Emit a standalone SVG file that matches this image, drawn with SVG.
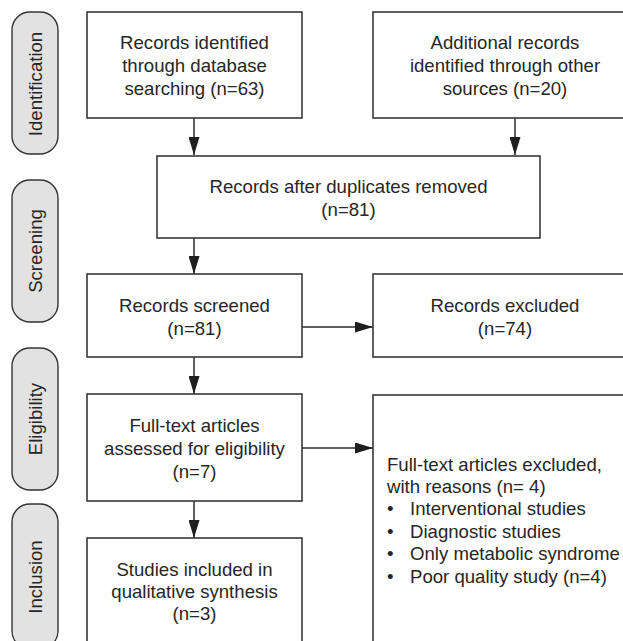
<svg xmlns="http://www.w3.org/2000/svg" width="623" height="641" viewBox="0 0 623 641">
<style>
.box{fill:#fff;stroke:#2b2b2b;stroke-width:1.5}
.pill{fill:#e2e2e2;stroke:#333;stroke-width:1.4}
.t{font-family:"Liberation Sans",Arial,sans-serif;font-size:18.6px;fill:#262626}
.c{text-anchor:middle}
.conn{stroke:#2b2b2b;stroke-width:1.5;fill:none}
</style>
<defs>
<marker id="ah" viewBox="0 0 18 11" refX="18" refY="5.5" markerWidth="18" markerHeight="11" markerUnits="userSpaceOnUse" orient="auto">
<path d="M0,0 L18,5.5 L0,11 z" fill="#1e1e1e"/>
</marker>
</defs>
<rect width="623" height="641" fill="#fff"/>
<g id="stage-identification">
<rect class="pill" x="12" y="12" width="46" height="142" rx="18" ry="18"/>
<text class="t c" transform="translate(42,84) rotate(-90)">Identification</text>
</g>
<g id="stage-screening">
<rect class="pill" x="12" y="180" width="46" height="142" rx="18" ry="18"/>
<text class="t c" transform="translate(42,251) rotate(-90)">Screening</text>
</g>
<g id="stage-eligibility">
<rect class="pill" x="12" y="348" width="46" height="142" rx="18" ry="18"/>
<text class="t c" transform="translate(42,419) rotate(-90)">Eligibility</text>
</g>
<g id="stage-inclusion">
<rect class="pill" x="12" y="504" width="46" height="145" rx="18" ry="18"/>
<text class="t c" transform="translate(42,577) rotate(-90)">Inclusion</text>
</g>
<g id="connectors">
<path class="conn" d="M194,118 V155" marker-end="url(#ah)"/>
<path class="conn" d="M515,118 V155" marker-end="url(#ah)"/>
<path class="conn" d="M194,238 V274" marker-end="url(#ah)"/>
<path class="conn" d="M302,327 H373" marker-end="url(#ah)"/>
<path class="conn" d="M194,357 V394" marker-end="url(#ah)"/>
<path class="conn" d="M302,448 H373" marker-end="url(#ah)"/>
<path class="conn" d="M194,501 V538" marker-end="url(#ah)"/>
</g>
<g id="n-database">
<rect class="box" x="87" y="12" width="215" height="106"/>
<text class="t c" x="194.5" y="49">Records identified</text>
<text class="t c" x="194.5" y="72">through database</text>
<text class="t c" x="194.5" y="95">searching (n=63)</text>
</g>
<g id="n-other">
<rect class="box" x="373" y="12" width="264" height="106"/>
<text class="t c" x="505" y="49">Additional records</text>
<text class="t c" x="505" y="72">identified through other</text>
<text class="t c" x="505" y="95">sources (n=20)</text>
</g>
<g id="n-duplicates">
<rect class="box" x="157" y="156" width="383" height="82"/>
<text class="t c" x="348.5" y="193">Records after duplicates removed</text>
<text class="t c" x="348.5" y="216">(n=81)</text>
</g>
<g id="n-screened">
<rect class="box" x="87" y="274" width="215" height="83"/>
<text class="t c" x="194.5" y="312">Records screened</text>
<text class="t c" x="194.5" y="335">(n=81)</text>
</g>
<g id="n-excluded">
<rect class="box" x="373" y="274" width="264" height="83"/>
<text class="t c" x="505" y="312">Records excluded</text>
<text class="t c" x="505" y="335">(n=74)</text>
</g>
<g id="n-fulltext">
<rect class="box" x="87" y="394" width="215" height="107"/>
<text class="t c" x="194.5" y="432">Full-text articles</text>
<text class="t c" x="194.5" y="455">assessed for eligibility</text>
<text class="t c" x="194.5" y="478">(n=7)</text>
</g>
<g id="n-fulltext-excluded">
<rect class="box" x="373" y="395" width="264" height="260"/>
<text class="t" x="387" y="471">Full-text articles excluded,</text>
<text class="t" x="387" y="493">with reasons (n= 4)</text>
<text class="t" x="387" y="515">•</text><text class="t" x="410" y="515">Interventional studies</text>
<text class="t" x="387" y="538">•</text><text class="t" x="410" y="538">Diagnostic studies</text>
<text class="t" x="387" y="560">•</text><text class="t" x="410" y="560">Only metabolic syndrome</text>
<text class="t" x="387" y="583">•</text><text class="t" x="410" y="583">Poor quality study (n=4)</text>
</g>
<g id="n-included">
<rect class="box" x="87" y="538" width="215" height="120"/>
<text class="t c" x="194.5" y="576">Studies included in</text>
<text class="t c" x="194.5" y="598">qualitative synthesis</text>
<text class="t c" x="194.5" y="620">(n=3)</text>
</g>
</svg>
